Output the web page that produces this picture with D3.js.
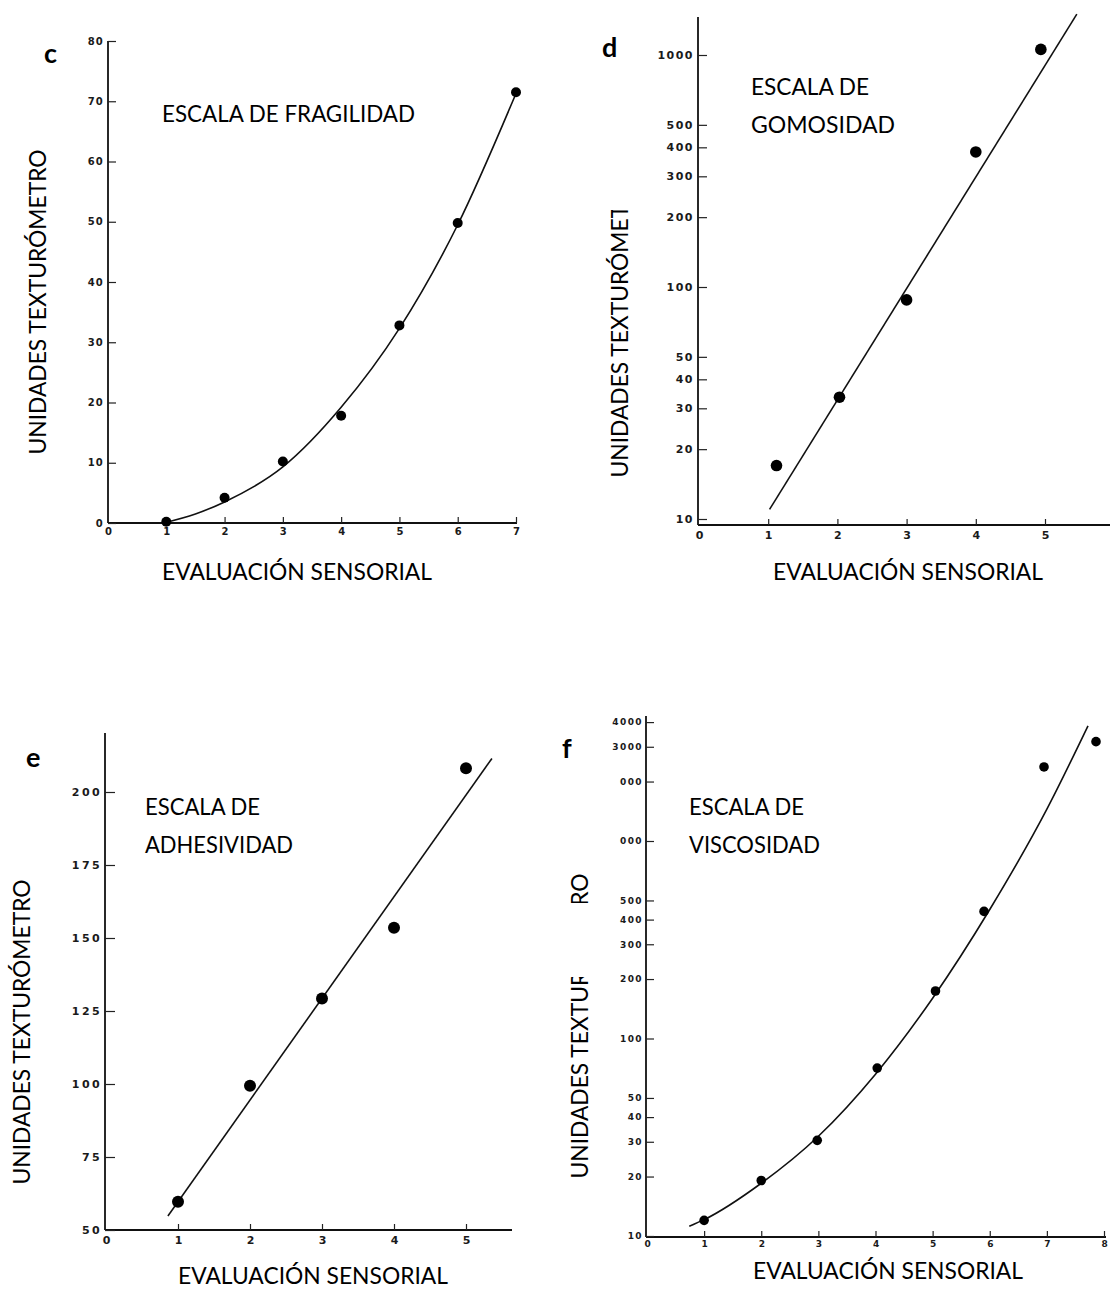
<!DOCTYPE html>
<html>
<head>
<meta charset="utf-8">
<script src="https://cdn.jsdelivr.net/npm/d3@7"></script>
<style>
  html, body { margin: 0; padding: 0; background: #fff; }
  svg { display: block; }
  .tick-lbl { font-family: "DejaVu Sans", sans-serif; fill: #1a1a1a; }
  .ttl { font-family: Lato, "Open Sans", sans-serif; fill: #000; }
  .panel-letter { font-family: Lato, "Open Sans", sans-serif; font-weight: 700; fill: #000; }
</style>
</head>
<body>
<svg id="chart" width="1112" height="1291"></svg>
<script>
// ---- c: fragility scale (linear) ----
const cX = [1, 2, 3, 4, 5, 6, 7];
const cY = [0.2, 4.2, 10.2, 17.8, 32.8, 49.8, 71.5];
const cFitX = [0.95, 1.5, 2, 3, 4, 5, 6, 7];
const cFitY = [0, 1.5, 3.5, 9.3, 19.2, 32.3, 49.5, 71.3];
const cXTicks = [0, 1, 2, 3, 4, 5, 6, 7];
const cYTicks = [0, 10, 20, 30, 40, 50, 60, 70, 80];

// ---- d: gumminess scale (log) ----
const dX = [1.12, 2.03, 3.0, 4.0, 4.94];
const dY = [17, 33.5, 88, 382, 1057];
const dFitX = [1.02, 5.46];
const dFitY = [11, 1500];
const dXTicks = [0, 1, 2, 3, 4, 5];
const dYTicks = [10, 20, 30, 40, 50, 100, 200, 300, 400, 500, 1000];

// ---- e: adhesiveness scale (linear) ----
const eX = [1, 2, 3, 4, 5];
const eY = [59.7, 99.4, 129.3, 153.5, 208.1];
const eFitX = [0.86, 5.36];
const eFitY = [54.8, 211.5];
const eXTicks = [0, 1, 2, 3, 4, 5];
const eYTicks = [50, 75, 100, 125, 150, 175, 200];

// ---- f: viscosity scale (log) ----
const fX = [1, 2, 2.98, 4.03, 5.05, 5.9, 6.95, 7.86];
const fY = [12, 19.1, 30.5, 70.8, 174, 440, 2371, 3184];
const fFitX = [0.74, 1, 2, 3, 4, 5, 6, 7, 7.72];
const fFitY = [11.2, 12.1, 18.5, 32, 66, 160, 450, 1450, 3830];
const fXTicks = [0, 1, 2, 3, 4, 5, 6, 7, 8];
const fYTicks = [10, 20, 30, 40, 50, 100, 200, 300, 400, 500, 1000, 2000, 3000, 4000];
const fYLabels = ["10", "20", "30", "40", "50", "100", "200", "300", "400", "500", "000", "000", "3000", "4000"];

const Y_TITLE = "UNIDADES TEXTURÓMETRO";
const X_TITLE = "EVALUACIÓN SENSORIAL";

const svg = d3.select("#chart");
const defs = svg.append("defs");

function panel(cfg) {
  const g = svg.append("g");
  const { x, y } = cfg;

  // axis lines
  g.append("line")
    .attr("x1", cfg.axisX).attr("x2", cfg.axisX)
    .attr("y1", cfg.axisTop).attr("y2", cfg.axisY)
    .attr("stroke", "#111").attr("stroke-width", 1.8);
  g.append("line")
    .attr("x1", cfg.axisX).attr("x2", cfg.axisRight)
    .attr("y1", cfg.axisY).attr("y2", cfg.axisY)
    .attr("stroke", "#111").attr("stroke-width", 1.8);

  // y axis: ticks point inward, labels on the left
  const ya = d3.axisLeft(y)
    .tickValues(cfg.yTicks)
    .tickSizeInner(-cfg.yTickLen)
    .tickSizeOuter(0)
    .tickPadding(cfg.yPad)
    .tickFormat((d, i) => cfg.yLabels ? cfg.yLabels[i] : String(d));
  const yg = g.append("g").attr("transform", `translate(${cfg.axisX},0)`).call(ya);
  yg.select(".domain").remove();
  yg.selectAll(".tick line").attr("stroke", "#222").attr("stroke-width", 1.2);
  yg.selectAll(".tick text")
    .attr("class", "tick-lbl")
    .style("font-size", cfg.yFont + "px")
    .style("letter-spacing", cfg.ySpacing + "px")
    .style("font-weight", "bold")
    .attr("fill", "#1a1a1a");

  // x axis: short ticks pointing up, labels below
  const xa = d3.axisBottom(x)
    .tickValues(cfg.xTicks)
    .tickSizeInner(-cfg.xTickLen)
    .tickSizeOuter(0)
    .tickPadding(cfg.xPad)
    .tickFormat(d3.format("d"));
  const xg = g.append("g").attr("transform", `translate(0,${cfg.axisY})`).call(xa);
  xg.select(".domain").remove();
  xg.selectAll(".tick line").attr("stroke", "#222").attr("stroke-width", 1.2);
  xg.selectAll(".tick").filter(d => d === 0).select("line").remove();
  xg.selectAll(".tick text")
    .attr("class", "tick-lbl")
    .style("font-size", cfg.xFont + "px")
    .style("font-weight", "bold")
    .attr("fill", "#1a1a1a");

  // fitted curve
  const fit = cfg.fitX.map((v, i) => [v, cfg.fitY[i]]);
  g.append("path")
    .datum(fit)
    .attr("fill", "none")
    .attr("stroke", "#111")
    .attr("stroke-width", 1.6)
    .attr("d", d3.line().x(d => x(d[0])).y(d => y(d[1])).curve(d3.curveMonotoneX));

  // observations
  g.selectAll("circle.obs")
    .data(cfg.px.map((v, i) => [v, cfg.py[i]]))
    .join("circle")
    .attr("class", "obs")
    .attr("cx", d => x(d[0]))
    .attr("cy", d => y(d[1]))
    .attr("r", cfg.r)
    .attr("fill", "#000");

  // panel letter
  g.append("text").attr("class", "panel-letter")
    .attr("x", cfg.letterPos[0]).attr("y", cfg.letterPos[1])
    .style("font-size", "27px")
    .text(cfg.letter);

  // scale name inside the plot
  cfg.name.forEach((line, i) => {
    g.append("text").attr("class", "ttl")
      .attr("x", cfg.namePos[0]).attr("y", cfg.namePos[1] + i * 37.5)
      .attr("textLength", cfg.nameLen[i]).attr("lengthAdjust", "spacingAndGlyphs")
      .style("font-size", "23px")
      .text(line);
  });

  // x title
  g.append("text").attr("class", "ttl")
    .attr("x", cfg.xTitlePos[0]).attr("y", cfg.xTitlePos[1])
    .attr("text-anchor", "middle")
    .attr("textLength", 270).attr("lengthAdjust", "spacingAndGlyphs")
    .style("font-size", "23px")
    .text(X_TITLE);

  // y title (rotated), optionally clipped
  const yt = g.append("text").attr("class", "ttl")
    .attr("transform", `translate(${cfg.yTitlePos[0]},${cfg.yTitlePos[1]}) rotate(-90)`)
    .attr("text-anchor", "middle")
    .attr("textLength", 305).attr("lengthAdjust", "spacingAndGlyphs")
    .style("font-size", "23px")
    .text(Y_TITLE);
  if (cfg.yTitleClip) {
    const id = "clip-" + cfg.letter;
    const cp = defs.append("clipPath").attr("id", id).attr("clipPathUnits", "userSpaceOnUse");
    cfg.yTitleClip.forEach(r => cp.append("rect")
      .attr("x", r[0]).attr("y", r[1]).attr("width", r[2]).attr("height", r[3]));
    g.append("g").attr("clip-path", `url(#${id})`).node().appendChild(yt.node());
  }
}

// c
panel({
  letter: "c", letterPos: [44, 63],
  x: d3.scaleLinear().domain([0, 7]).range([108, 516]),
  y: d3.scaleLinear().domain([0, 80]).range([523, 41]),
  axisX: 108, axisY: 523, axisTop: 41, axisRight: 517,
  xTicks: cXTicks, yTicks: cYTicks,
  yTickLen: 8, xTickLen: 6, yPad: 4, xPad: 5,
  yFont: 10, ySpacing: 1.2, xFont: 10,
  px: cX, py: cY, fitX: cFitX, fitY: cFitY, r: 5,
  name: ["ESCALA DE FRAGILIDAD"], nameLen: [253], namePos: [162, 122],
  xTitlePos: [297, 580], yTitlePos: [46, 302]
});

// d
panel({
  letter: "d", letterPos: [602, 57],
  x: d3.scaleLinear().domain([0, 5]).range([699, 1045]),
  y: d3.scaleLog().domain([10, 1000]).range([519, 55]),
  axisX: 698, axisY: 525, axisTop: 17, axisRight: 1110,
  xTicks: dXTicks, yTicks: dYTicks,
  yTickLen: 9, xTickLen: 6, yPad: 4, xPad: 6,
  yFont: 11, ySpacing: 1.5, xFont: 11,
  px: dX, py: dY, fitX: dFitX, fitY: dFitY, r: 5.8,
  name: ["ESCALA DE", "GOMOSIDAD"], nameLen: [118, 144], namePos: [751, 95],
  xTitlePos: [908, 580], yTitlePos: [628, 325],
  yTitleClip: [[600, 210, 40, 300]]
});

// e
panel({
  letter: "e", letterPos: [26, 767],
  x: d3.scaleLinear().domain([0, 5]).range([106, 466]),
  y: d3.scaleLinear().domain([50, 200]).range([1230, 792]),
  axisX: 105, axisY: 1230, axisTop: 733, axisRight: 512,
  xTicks: eXTicks, yTicks: eYTicks,
  yTickLen: 10, xTickLen: 6, yPad: 3, xPad: 6,
  yFont: 11, ySpacing: 2.4, xFont: 11,
  px: eX, py: eY, fitX: eFitX, fitY: eFitY, r: 6,
  name: ["ESCALA DE", "ADHESIVIDAD"], nameLen: [115, 148], namePos: [145, 815],
  xTitlePos: [313, 1284], yTitlePos: [30, 1032]
});

// f
panel({
  letter: "f", letterPos: [562, 758],
  x: d3.scaleLinear().domain([0, 8]).range([647, 1104]),
  y: d3.scaleLog().domain([10, 1000]).range([1236, 841]),
  axisX: 646, axisY: 1237, axisTop: 716, axisRight: 1106,
  xTicks: fXTicks, yTicks: fYTicks, yLabels: fYLabels,
  yTickLen: 8, xTickLen: 6, yPad: 3, xPad: 4,
  yFont: 9, ySpacing: 1.4, xFont: 9,
  px: fX, py: fY, fitX: fFitX, fitY: fFitY, r: 4.8,
  name: ["ESCALA DE", "VISCOSIDAD"], nameLen: [115, 131], namePos: [689, 815],
  xTitlePos: [888, 1279], yTitlePos: [588, 1026],
  yTitleClip: [[560, 700, 40, 203], [560, 977, 40, 300]]
});
</script>
</body>
</html>
